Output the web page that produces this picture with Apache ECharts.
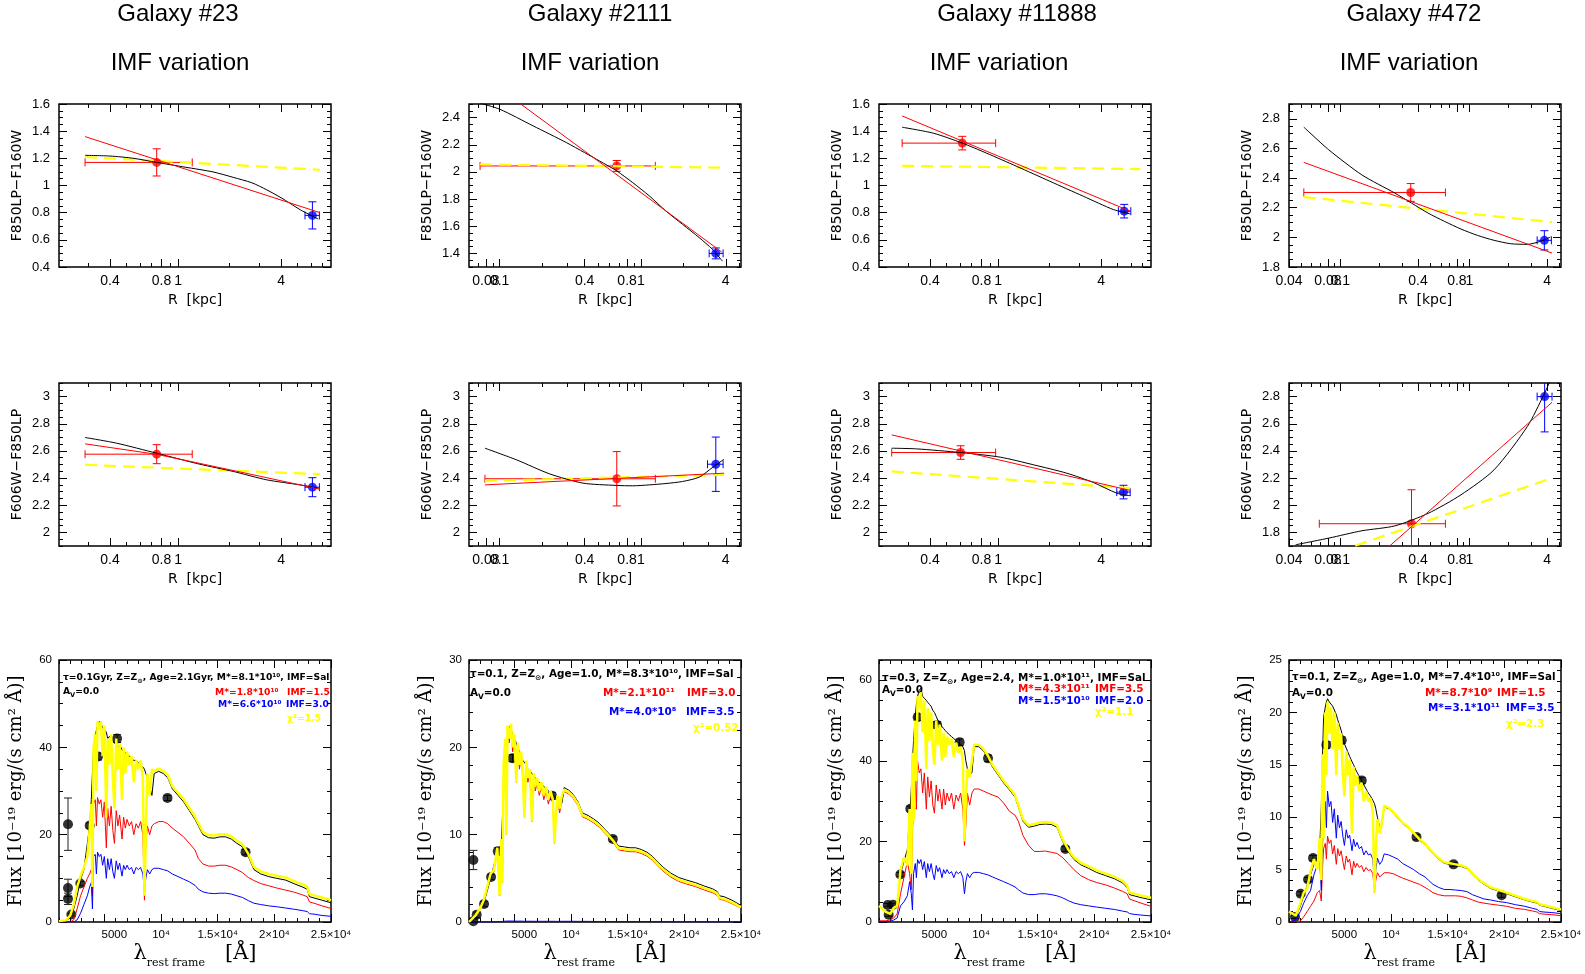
<!DOCTYPE html>
<html>
<head>
<meta charset="utf-8">
<title>IMF variation – colour profiles and SED fits</title>
<script src="https://cdn.jsdelivr.net/npm/echarts@6.0.0/dist/echarts.min.js"></script>
<style>
  html, body { margin: 0; padding: 0; background: #fff; }
  #chart { width: 1585px; height: 974px; }
</style>
</head>
<body>
<div id="chart"></div>
<script>
// ================= Galaxies =================
const galaxyNames = ['Galaxy #23', 'Galaxy #2111', 'Galaxy #11888', 'Galaxy #472'];
const subtitle = 'IMF variation';

// ================= Colour profiles =================
// measured point: [R (kpc), colour (mag), R_min, R_max, colour error]
// model curves: [[R, colour], ...]
// F850LP - F160W
const zh23_in = [0.75, 1.17, 0.286, 1.21, 0.10];
const zh23_out = [6.1, 0.78, 5.52, 6.7, 0.10];
const zh23_red = [[0.286, 1.36], [6.76, 0.80]];
const zh23_black = [[0.286, 1.222], [0.4, 1.217], [0.55, 1.2], [0.75, 1.17], [1.1, 1.135], [1.6, 1.1], [2.1, 1.06], [2.7, 1.02], [3.3, 0.968], [4.0, 0.91], [4.5, 0.87], [5.2, 0.82], [6.6, 0.753]];
const zh23_yel = [[0.286, 1.21], [6.76, 1.116]];

const zh2111_in = [0.676, 2.044, 0.0727, 1.268, 0.04];
const zh2111_out = [3.40, 1.40, 3.05, 3.83, 0.04];
const zh2111_red = [[0.0727, 2.72], [3.75, 1.41]];
const zh2111_black = [[0.0726, 2.506], [0.1005, 2.461], [0.1726, 2.339], [0.297, 2.216], [0.4, 2.142], [0.511, 2.08], [0.676, 2.007], [0.877, 1.921], [1.151, 1.823], [1.507, 1.712], [1.977, 1.614], [2.594, 1.516], [3.22, 1.43], [3.79, 1.343]];
const zh2111_yel = [[0.0727, 2.056], [3.89, 2.031]];

const zh11888_in = [0.618, 1.312, 0.275, 0.968, 0.05];
const zh11888_out = [5.46, 0.811, 5.05, 5.97, 0.05];
const zh11888_red = [[0.275, 1.512], [5.92, 0.811]];
const zh11888_black = [[0.275, 1.429], [0.419, 1.385], [0.618, 1.312], [0.857, 1.238], [1.285, 1.141], [2.01, 1.031], [3.15, 0.921], [4.72, 0.823], [5.92, 0.791]];
const zh11888_yel = [[0.275, 1.145], [6.77, 1.121]];

const zh472_in = [0.351, 2.303, 0.0521, 0.652, 0.06];
const zh472_out = [3.81, 1.98, 3.35, 4.32, 0.065];
const zh472_red = [[0.0521, 2.506], [4.37, 1.894]];
const zh472_black = [[0.0521, 2.744], [0.0813, 2.591], [0.1466, 2.422], [0.264, 2.299], [0.356, 2.231], [0.478, 2.164], [0.641, 2.108], [0.861, 2.056], [1.158, 2.013], [1.554, 1.98], [2.09, 1.957], [2.81, 1.953], [3.55, 1.973], [4.24, 2.002]];
const zh472_yel = [[0.0521, 2.272], [4.37, 2.103]];

// F606W - F850LP
const vz23_in = [0.75, 2.576, 0.286, 1.21, 0.07];
const vz23_out = [6.1, 2.333, 5.52, 6.7, 0.07];
const vz23_red = [[0.286, 2.652], [0.75, 2.575], [1.5, 2.495], [3.0, 2.414], [6.76, 2.318]];
const vz23_black = [[0.286, 2.699], [0.437, 2.657], [0.75, 2.583], [1.34, 2.502], [2.1, 2.449], [3.3, 2.387], [5.17, 2.35], [6.6, 2.326]];
const vz23_yel = [[0.286, 2.498], [6.76, 2.429]];

const vz2111_in = [0.676, 2.395, 0.0787, 1.268, 0.2];
const vz2111_out = [3.40, 2.502, 2.97, 3.83, 0.2];
const vz2111_red = [[0.0787, 2.35], [3.89, 2.436]];
const vz2111_black = [[0.0787, 2.62], [0.132, 2.534], [0.226, 2.431], [0.389, 2.363], [0.67, 2.346], [0.877, 2.343], [1.151, 2.35], [1.507, 2.36], [1.977, 2.375], [2.594, 2.407], [3.22, 2.478], [3.89, 2.539]];
const vz2111_yel = [[0.0787, 2.38], [3.89, 2.424]];

const vz11888_in = [0.604, 2.588, 0.239, 0.968, 0.05];
const vz11888_out = [5.41, 2.297, 4.94, 5.92, 0.05];
const vz11888_red = [[0.239, 2.718], [5.92, 2.309]];
const vz11888_black = [[0.239, 2.62], [0.334, 2.615], [0.604, 2.588], [1.03, 2.554], [1.61, 2.498], [2.52, 2.436], [3.6, 2.368], [4.94, 2.289], [5.92, 2.27]];
const vz11888_yel = [[0.239, 2.449], [5.92, 2.326]];

const vz472_in = [0.356, 1.864, 0.0687, 0.652, 0.25];
const vz472_out = [3.83, 2.80, 3.35, 4.37, 0.26];
const vz472_red = [[0.0687, 1.242], [4.37, 2.758]];
const vz472_black = [[0.045, 1.709], [0.0813, 1.758], [0.1466, 1.812], [0.264, 1.848], [0.478, 1.94], [0.861, 2.077], [1.554, 2.261], [2.81, 2.579], [3.77, 2.812], [4.37, 2.947]];
const vz472_yel = [[0.0687, 1.611], [4.37, 2.2]];

// ================= Spectral energy distributions =================
// rest-frame wavelength grid (Angstrom) shared by all model spectra
const sedWave = [
  1000, 1600, 2000, 2300, 2600, 2900, 3200, 3500, 3700, 3850, 3950, 4050,
  4200, 4300, 4400, 4550, 4700, 4850, 5000, 5175, 5300, 5450, 5600, 5750, 5890, 6050, 6200, 6350, 6560, 6700, 6850, 7000, 7200, 7400, 7600, 7800, 8000, 8200, 8400, 8540, 8660, 8800, 9000, 9200,
  9400, 9800, 10200, 10600, 11000, 11500, 12000, 12500, 13000, 13300, 13700, 14200, 14700, 15200, 15700, 16200, 16700, 17200, 17700, 18200, 18800, 19500, 20200, 21000, 21800, 22500, 22900, 23100, 23500, 24200, 25000
];

// Flux in 1e-19 erg/(s cm2 A): black = best fit, yellow = Salpeter, red / blue = alternative IMFs
const sed23_black = [
  0.2, 0.3, 1.0, 3, 6, 9.7, 12, 18, 22, 28, 34, 39.5,
  42, 44, 45, 46, 45.5, 44.5, 44, 43.5, 42, 42.5, 42, 41.5, 41, 41, 40, 40.5, 39.5, 39, 39, 38.5, 38, 37.5, 37, 37, 36.5, 36, 35.5, 35, 34, 33, 31, 29,
  34, 34.5, 34, 33, 30.5, 29, 27.5, 25.5, 23.5, 22, 20, 19.3, 19.2, 19.5, 19.5, 19, 18, 17.2, 15, 12, 11, 10.4, 10, 9.6, 8.7, 8, 7.5, 5.8, 5.5, 5, 4.4
];
const sed23_yel = [
  0.2, 0.4, 1.5, 4, 8, 10.5, 12.5, 15, 21, 27, 8, 40,
  43, 30, 46, 44, 46, 38, 45, 24, 42, 36, 43, 33, 26, 42, 35, 41, 28, 40, 34, 39, 36, 38, 32, 37, 35, 37, 33, 6, 20, 34, 29, 35,
  34.6, 35.1, 34.6, 33.6, 31.1, 29.6, 28.1, 26.1, 24.1, 22.6, 20.6, 19.9, 19.8, 20.1, 20.1, 19.6, 18.6, 17.8, 15.6, 12.6, 11.6, 11, 10.6, 10.2, 9.3, 8.6, 8.1, 6.4, 6.1, 5.6, 5
];
const sed23_red = [
  0, 0, 0, 0.5, 3, 6, 8, 10, 11, 12, 6, 27,
  28, 22, 28.5, 27, 28, 24, 27.5, 17, 26, 22, 26.5, 21, 18, 25.5, 22, 24.5, 19, 24, 21.5, 23.5, 22, 23, 20, 22.5, 21.5, 23, 20, 5, 18, 22, 20, 22,
  22.5, 23, 23, 22.5, 21.5, 20.5, 19.5, 18, 16.5, 14.5, 13.3, 12.8, 12.8, 13, 13, 12.6, 12, 11.3, 10.2, 9.5, 8.8, 8.3, 7.8, 7.3, 6.8, 6.2, 5.8, 4.6, 4.3, 3.7, 3.1
];
const sed23_blue = [
  0, 0, 0, 0, 0.5, 2, 4, 6, 8, 9, 3, 15,
  15.5, 11, 16, 15, 15.5, 13, 15, 10, 14.5, 12, 14.5, 11.5, 10, 14, 12, 13.5, 10.5, 13, 12, 13, 12, 12.5, 11, 12.5, 12, 12.5, 11, 7, 10, 12, 11, 12,
  12.3, 12.3, 12, 11.7, 11, 10.4, 9.8, 9.2, 8.4, 7.5, 6.9, 6.6, 6.5, 6.6, 6.6, 6.4, 6, 5.6, 4.9, 4.3, 4, 3.7, 3.5, 3.2, 2.9, 2.6, 2.4, 1.9, 1.8, 1.5, 1.3
];
// photometry: [wavelength, flux, error]
const phot23 = [[1795, 22.4, 6.0], [1795, 7.8, 2.0], [1795, 5.3, 1.3], [2090, 1.7, 0.3], [2885, 8.8, 0.5], [3710, 22.1, 0.6], [4445, 37.9, 0.8], [6124, 42.0, 0.9], [10571, 28.4, 0.6], [17460, 16.0, 0.6]];

const sed2111_black = [
  0, 0.7, 1.5, 2.2, 3.5, 5, 6.5, 8, 8.5, 9, 12, 15,
  17, 19.5, 21, 22.4, 22, 21.5, 21, 20.5, 20, 19.5, 19, 18.5, 18.3, 18, 17.5, 17.3, 17, 16.8, 16.5, 16.2, 16, 15.8, 15.5, 15.3, 15, 14.8, 14.6, 14.4, 14.2, 14, 13.8, 13.6,
  15.4, 15.1, 14.6, 13.8, 12.5, 12.2, 11.8, 11.3, 10.6, 10.2, 9.6, 8.7, 8.6, 8.5, 8.5, 8.3, 8, 7.5, 6.8, 6.2, 5.6, 5.1, 4.8, 4.5, 4.1, 3.8, 3.5, 3.0, 2.9, 2.5, 1.9
];
const sed2111_yel = [
  0, 0.8, 1.6, 2.5, 4, 5.5, 6, 8.5, 3, 9.5, 4.5, 18,
  21, 10, 22.5, 21, 22.7, 20, 21.5, 16, 20.5, 18, 19.5, 17, 12, 18.5, 16.5, 17.5, 11.5, 17, 15.5, 16.5, 15, 16, 14.5, 15.5, 14, 15, 14, 9, 12, 14.5, 13, 14.5,
  15.15, 14.85, 14.35, 13.55, 12.25, 11.95, 11.55, 11.05, 10.35, 9.95, 9.35, 8.45, 8.35, 8.25, 8.25, 8.05, 7.75, 7.25, 6.55, 5.95, 5.35, 4.85, 4.55, 4.25, 3.85, 3.55, 3.25, 2.75, 2.65, 2.25, 1.7
];
const sed2111_red = [
  0, 0.7, 1.5, 2.4, 3.8, 5.3, 5.8, 8.2, 3, 9.2, 4.5, 17.5,
  20.5, 10, 22, 20.5, 22.2, 19.5, 21, 16, 20, 17.5, 19, 16.5, 12, 18, 16, 17, 11.5, 16.5, 15, 16, 14.5, 15.5, 14, 15, 13.5, 14.5, 13.5, 9, 12, 14, 12.5, 14,
  14.95, 14.65, 14.15, 13.35, 12.05, 11.75, 11.35, 10.85, 10.15, 9.75, 9.15, 8.25, 8.15, 8.05, 8.05, 7.85, 7.55, 7.05, 6.35, 5.75, 5.15, 4.65, 4.35, 4.05, 3.65, 3.35, 3.05, 2.6, 2.5, 2.1, 1.6
];
const sed2111_blue = [
  0, 0, 0, 0, 0, 0.01, 0.02, 0.03, 0.04, 0.05, 0.05, 0.08,
  0.1, 0.08, 0.11, 0.1, 0.11, 0.1, 0.1, 0.08, 0.1, 0.09, 0.1, 0.09, 0.08, 0.09, 0.09, 0.09, 0.08, 0.09, 0.08, 0.09, 0.08, 0.08, 0.08, 0.08, 0.08, 0.08, 0.08, 0.06, 0.07, 0.08, 0.07, 0.08,
  0.08, 0.08, 0.08, 0.07, 0.07, 0.07, 0.06, 0.06, 0.06, 0.05, 0.05, 0.05, 0.05, 0.05, 0.05, 0.05, 0.05, 0.04, 0.04, 0.04, 0.03, 0.03, 0.03, 0.03, 0.02, 0.02, 0.02, 0.02, 0.02, 0.02, 0.01
];
const phot2111 = [[1384, 7.1, 1.1], [1384, 0.1, 0.3], [1679, 0.84, 0.3], [2328, 2.06, 0.3], [2948, 5.15, 0.3], [3539, 8.1, 0.4], [4838, 18.75, 0.4], [8321, 14.45, 0.4], [13694, 9.5, 0.3]];

const sed11888_black = [
  4, 2.5, 2.2, 3.5, 4.5, 12, 15, 18, 26, 33, 40, 45,
  51, 54, 56, 57.5, 58, 56, 55.5, 55, 54.5, 54, 53.5, 52.5, 52, 51, 50, 49.5, 48.5, 48, 47.5, 47, 46.5, 46, 45.5, 45, 44.5, 44, 43.5, 42.5, 40, 38, 36.5, 37,
  43.5, 43.5, 42.5, 40.8, 38.5, 36.5, 34.5, 32.8, 31, 28.5, 25, 23.5, 23.8, 24.2, 24.3, 24.2, 23.5, 20, 17.5, 15.5, 14.2, 13.3, 12.3, 11.5, 10.7, 9.7, 8.5, 6.8, 6.5, 6, 5.5
];
const sed11888_yel = [
  4, 2.5, 2, 3.5, 4, 13, 16, 14, 28, 12, 42, 25,
  50, 35, 56, 53, 57, 47, 55, 38, 53, 45, 52, 43, 39, 50, 44, 49, 40, 47, 41, 46, 44, 45.5, 41, 44.5, 42, 43.5, 40, 20, 30, 38, 36, 40,
  44, 44, 43, 41.3, 39, 37, 35, 33.3, 31.5, 29, 25.5, 24, 24.3, 24.7, 24.8, 24.7, 24, 20.5, 18, 16, 14.7, 13.8, 12.8, 12, 11.2, 10.2, 9, 7.3, 7, 6.5, 6
];
const sed11888_red = [
  0.3, 0.3, 0.5, 1, 2, 7, 11, 15, 12, 8, 22, 30,
  36, 28, 40, 37, 38, 32, 37, 28, 36, 31, 35, 29, 27, 34, 30, 33, 28, 33, 29, 32, 30, 32, 28, 31.5, 30, 32, 28, 19, 24, 32, 29, 32,
  33, 33, 32.5, 32, 31.5, 31, 29.5, 27.5, 26.5, 25, 21.5, 19, 17.5, 17.5, 17.6, 17.3, 17, 16, 14.5, 13, 11.5, 10.5, 9.8, 9.2, 8.4, 7.6, 7, 5.7, 5.3, 4.6, 3.9
];
const sed11888_blue = [
  0, 0, 0.2, 0.5, 1, 4, 5, 6.5, 10, 7, 3, 12,
  14.5, 11, 15.5, 14.5, 15.5, 13, 15, 11, 14.5, 12.5, 14.5, 12, 10.5, 14, 12.5, 13.5, 11, 13, 12, 13, 12, 12.5, 11, 12.5, 12, 12.5, 11, 7, 10, 12, 11, 12,
  12.3, 12.3, 12, 11.7, 11.2, 10.6, 10, 9.4, 8.7, 8, 7.2, 6.8, 6.8, 7, 7, 6.8, 6.5, 6, 5.3, 4.7, 4.3, 4, 3.7, 3.4, 3.1, 2.7, 2.5, 2.1, 1.9, 1.7, 1.5
];
const phot11888 = [[1765, 4.2, 0.4], [1853, 1.8, 0.4], [2235, 4.3, 0.4], [2882, 11.8, 0.5], [3765, 28.1, 0.6], [4412, 50.8, 0.8], [6118, 48.9, 0.8], [8118, 44.6, 0.8], [10618, 40.6, 0.8], [17441, 18.1, 0.6]];

const sed472_black = [
  1, 0.5, 1.5, 2.5, 3.5, 4.5, 5.5, 6.2, 6.8, 11, 15.5, 19.5,
  20.5, 21, 21.3, 21, 20.8, 20.6, 20.5, 19.8, 19.3, 18.8, 18.3, 17.6, 17, 16.6, 16.2, 15.8, 15.3, 15, 14.6, 14.3, 13.9, 13.5, 13.1, 12.7, 12.3, 12, 11.6, 11.3, 10.8, 10, 9, 9.3,
  11, 10.8, 10.4, 9.9, 9.4, 9, 8.4, 7.8, 7.4, 7, 6.5, 6, 5.6, 5.5, 5.4, 5.3, 5.1, 4.5, 4, 3.6, 3.2, 2.95, 2.7, 2.4, 2.1, 1.9, 1.8, 1.6, 1.5, 1.3, 1.1
];
const sed472_yel = [
  1, 0.6, 1.8, 2.8, 3.2, 4.8, 6, 5, 8, 4, 16, 8,
  20, 14, 21, 18, 20.5, 16.5, 20, 14, 19, 16.5, 18, 14, 12, 16.3, 14, 15.5, 8.5, 14.8, 13, 14, 12.5, 13.3, 11.5, 12.5, 11.5, 11.8, 10.5, 2.8, 7, 9.8, 8.5, 9.5,
  11.1, 10.9, 10.5, 10, 9.5, 9.1, 8.5, 7.9, 7.5, 7.1, 6.6, 6.1, 5.7, 5.6, 5.5, 5.4, 5.2, 4.6, 4.1, 3.7, 3.3, 3.05, 2.8, 2.5, 2.2, 2, 1.9, 1.7, 1.6, 1.4, 1.2
];
const sed472_red = [
  0, 0, 0.1, 0.5, 1, 1.5, 2, 2.8, 3, 2, 5, 7,
  7.5, 6, 8.2, 7.5, 7.8, 6.5, 7.3, 5.5, 7, 6.3, 6.8, 5.8, 5, 6.3, 5.7, 6, 4.5, 5.8, 5.2, 5.6, 5.2, 5.4, 4.8, 5.2, 4.9, 5, 4.6, 2.8, 4, 4.7, 4.3, 4.5,
  4.7, 4.7, 4.6, 4.4, 4.2, 4, 3.8, 3.6, 3.3, 3.1, 2.8, 2.6, 2.5, 2.5, 2.5, 2.45, 2.3, 2.1, 1.9, 1.8, 1.7, 1.6, 1.5, 1.3, 1.2, 1.05, 0.95, 0.8, 0.75, 0.7, 0.6
];
const sed472_blue = [
  0, 0.2, 1, 1.8, 2.5, 3, 4.5, 5.5, 6, 3, 7, 10,
  11.5, 9, 12.5, 11, 11.5, 9.5, 10.8, 8, 10.2, 9, 9.6, 8.2, 7.3, 8.8, 8, 8.3, 6.8, 7.9, 7.2, 7.6, 7, 7.2, 6.4, 6.8, 6.4, 6.5, 6, 3.5, 5, 6.1, 5.5, 5.8,
  6.5, 6.4, 6.2, 6, 5.6, 5.3, 5, 4.6, 4.3, 4, 3.6, 3.3, 3.1, 3.1, 3.05, 3, 2.9, 2.6, 2.4, 2.2, 2.1, 1.95, 1.85, 1.65, 1.5, 1.3, 1.2, 1, 0.95, 0.9, 0.8
];
const phot472 = [[1530, 0.48, 0.15], [2031, 2.7, 0.2], [2679, 4.05, 0.2], [3120, 6.1, 0.25], [4298, 16.9, 0.3], [5653, 17.35, 0.3], [7420, 13.5, 0.3], [12249, 8.1, 0.25], [15518, 5.5, 0.2], [19758, 2.55, 0.2]];

// fit parameters printed in each SED panel
const fitTau = ['0.1Gyr', '0.1', '0.3', '0.1'];
const fitAge = ['2.1Gyr', '1.0', '2.4', '1.0'];
const fitMass = ['8.1*10¹⁰', '8.3*10¹⁰', '1.0*10¹¹', '7.4*10¹⁰'];
const redMass = ['1.8*10¹⁰', '2.1*10¹¹', '4.3*10¹¹', '8.7*10⁹'];
const redImf = ['1.5', '3.0', '3.5', '1.5'];
const blueMass = ['6.6*10¹⁰', '4.0*10⁸', '1.5*10¹⁰', '3.1*10¹¹'];
const blueImf = ['3.0', '3.5', '2.0', '3.5'];
const chi2 = ['1.5', '0.52', '1.1', '2.3'];

// ================= Tick labels =================
const rTickLabels = [0.04, 0.08, 0.1, 0.4, 0.8, 1, 4];
const rMinorTicks = [0.05, 0.06, 0.07, 0.09, 0.2, 0.3, 0.5, 0.6, 0.7, 0.9, 2, 3, 5, 6, 7, 8, 9];
const zhTicks = [[0.4, 0.6, 0.8, 1, 1.2, 1.4, 1.6], [1.4, 1.6, 1.8, 2, 2.2, 2.4], [0.4, 0.6, 0.8, 1, 1.2, 1.4, 1.6], [1.8, 2, 2.2, 2.4, 2.6, 2.8]];
const vzTicks = [[2, 2.2, 2.4, 2.6, 2.8, 3], [2, 2.2, 2.4, 2.6, 2.8, 3], [2, 2.2, 2.4, 2.6, 2.8, 3], [1.8, 2, 2.2, 2.4, 2.6, 2.8]];
const sedXTicks = [5000, 10000, 15000, 20000, 25000];
const sedXTickText = ['5000', '10⁴', '1.5×10⁴', '2×10⁴', '2.5×10⁴'];
const sedYTicks = [[0, 20, 40, 60], [0, 10, 20, 30], [0, 20, 40, 60], [0, 5, 10, 15, 20, 25]];

// ================= Layout =================
const COL_LEFT = [59, 469, 879, 1289];
const PANEL_W = 272;
const ROW_TOP = [104, 383, 660];
const ROW_H = [163, 163, 262];
const logRange = [[-0.696, 0.894], [-1.217, 0.710], [-0.696, 0.894], [-1.398, 0.710]];
const zhRange = [[0.4, 1.6], [1.3, 2.5], [0.4, 1.6], [1.8, 2.9]];
const vzRange = [[1.9, 3.1], [1.9, 3.1], [1.9, 3.1], [1.7, 2.9]];
const sedYRange = [[0, 60], [0, 30], [0, 65], [0, 25]];
const sedYMinorStep = [5, 2, 5, 1];

const RED = '#ff0000', BLUE = '#0000ff', YEL = '#ffff00', BLK = '#000000';
const TICK_FONT = 'Liberation Sans';
const L10 = Math.log10;

function steps(min, max, step) {
  const out = [];
  const k0 = Math.ceil(min / step - 1e-9), k1 = Math.floor(max / step + 1e-9);
  for (let k = k0; k <= k1; k++) out.push(+(k * step).toFixed(6));
  return out;
}

const grids = [], xAxes = [], yAxes = [], series = [], graphics = [];

// four axes per side pair: labelled major ticks, minor ticks (optionally with a second
// label set, so neighbouring labels are not thinned out), mirrored major, mirrored minor
function pushAxes(list, gi, pos, opp, c) {
  const base = () => ({
    type: 'value', gridIndex: gi, min: c.min, max: c.max, silent: true,
    axisLine: { show: false, onZero: false }, splitLine: { show: false }, axisPointer: { show: false }
  });
  const ticks = (vals, len) => ({ show: true, inside: true, length: len, customValues: vals, lineStyle: { color: BLK, width: 1 } });
  const lbl = l => l ? Object.assign({ showMinLabel: true, showMaxLabel: true, hideOverlap: false }, l) : { show: false };
  list.push(Object.assign(base(), {
    position: pos, axisTick: ticks(c.major, c.majorLen), axisLabel: lbl(c.label),
    name: c.name || '', nameLocation: 'middle', nameGap: c.nameGap || 0,
    nameRotate: c.nameRotate || 0, nameTextStyle: c.nameTextStyle || {}, nameMoveOverlap: false
  }));
  list.push(Object.assign(base(), { position: pos, axisTick: ticks(c.minor, c.minorLen), axisLabel: lbl(c.label2) }));
  list.push(Object.assign(base(), { position: opp, axisTick: ticks(c.major, c.majorLen), axisLabel: { show: false } }));
  list.push(Object.assign(base(), { position: opp, axisTick: ticks(c.minor, c.minorLen), axisLabel: { show: false } }));
}

function addGrid(row, col) {
  grids.push({
    left: COL_LEFT[col], top: ROW_TOP[row], width: PANEL_W, height: ROW_H[row],
    show: true, borderColor: BLK, borderWidth: 1.5, backgroundColor: 'rgba(0,0,0,0)',
    containLabel: false, outerBoundsMode: 'none'
  });
  return grids.length - 1;
}

function renderErr(params, api) {
  const x = api.value(0), y = api.value(1);
  const c = api.coord([x, y]);
  const xl = api.coord([api.value(2), y])[0], xh = api.coord([api.value(3), y])[0];
  const yl = api.coord([x, api.value(4)])[1], yh = api.coord([x, api.value(5)])[1];
  const col = api.visual('color');
  const cap = 4, kids = [];
  const seg = (x1, y1, x2, y2) => kids.push({ type: 'line', shape: { x1, y1, x2, y2 }, style: { stroke: col, lineWidth: 1 } });
  if (Math.abs(xh - xl) > 0.5) {
    seg(xl, c[1], xh, c[1]);
    seg(xl, c[1] - cap, xl, c[1] + cap);
    seg(xh, c[1] - cap, xh, c[1] + cap);
  }
  seg(c[0], yl, c[0], yh);
  seg(c[0] - cap, yl, c[0] + cap, yl);
  seg(c[0] - cap, yh, c[0] + cap, yh);
  return { type: 'group', children: kids };
}

function lineSeries(ai, data, color, width, dash, smooth) {
  return {
    type: 'line', xAxisIndex: ai, yAxisIndex: ai, data, symbol: 'none', silent: true,
    smooth: smooth || false, clip: true,
    lineStyle: { color, width, type: dash || 'solid' }, itemStyle: { color }
  };
}

function errSeries(ai, data, color) {
  return { type: 'custom', xAxisIndex: ai, yAxisIndex: ai, data, renderItem: renderErr, clip: true, silent: true, itemStyle: { color } };
}

function dotSeries(ai, data, color, size) {
  return { type: 'scatter', xAxisIndex: ai, yAxisIndex: ai, data, symbol: 'circle', symbolSize: size, silent: true, clip: true, itemStyle: { color } };
}

// radius labels alternate between two axes so that close pairs (0.08/0.1, 0.8/1) both stay visible
const rLabelsA = rTickLabels.filter((v, i) => i % 2 === 0);
const rLabelsB = rTickLabels.filter((v, i) => i % 2 === 1);
function rLabel(vals) {
  return {
    show: true, customValues: vals.map(L10), margin: 7, color: BLK,
    fontFamily: TICK_FONT, fontSize: 14,
    formatter: v => String(+Math.pow(10, v).toPrecision(2))
  };
}

// ---------- colour-profile panel ----------
function colourPanel(row, col, yRange, yTicks, yName, d) {
  const gi = addGrid(row, col);
  const ai = gi * 4;
  pushAxes(xAxes, gi, 'bottom', 'top', {
    min: logRange[col][0], max: logRange[col][1],
    major: rTickLabels.map(L10), minor: rMinorTicks.map(L10), majorLen: 8, minorLen: 4,
    label: rLabel(rLabelsA), label2: rLabel(rLabelsB),
    name: 'R  [kpc]', nameGap: 26,
    nameTextStyle: { fontFamily: 'DejaVu Sans', fontSize: 14, color: BLK }
  });
  pushAxes(yAxes, gi, 'left', 'right', {
    min: yRange[0], max: yRange[1],
    major: yTicks, minor: steps(yRange[0], yRange[1], 0.05), majorLen: 8, minorLen: 4,
    label: {
      show: true, customValues: yTicks, margin: 9, color: BLK,
      fontFamily: TICK_FONT, fontSize: 13, formatter: v => String(+v.toFixed(2))
    },
    name: yName, nameGap: 35, nameRotate: 90,
    nameTextStyle: { fontFamily: 'DejaVu Sans', fontSize: 14, color: BLK }
  });
  const xy = p => [L10(p[0]), p[1]];
  const eb = p => [L10(p[0]), p[1], L10(p[2]), L10(p[3]), p[1] - p[4], p[1] + p[4]];
  series.push(lineSeries(ai, d.yel.map(xy), YEL, 2.2, [12, 7]));
  series.push(lineSeries(ai, d.black.map(xy), BLK, 1, null, 0.25));
  series.push(lineSeries(ai, d.red.map(xy), RED, 1));
  series.push(errSeries(ai, [eb(d.inner)], RED));
  series.push(errSeries(ai, [eb(d.outer)], BLUE));
  series.push(dotSeries(ai, [xy(d.inner)], RED, 9));
  series.push(dotSeries(ai, [xy(d.outer)], BLUE, 9));
}

// ---------- SED panel ----------
function sedPanel(col, s) {
  const gi = addGrid(2, col);
  const ai = gi * 4;
  const yr = sedYRange[col];
  pushAxes(xAxes, gi, 'bottom', 'top', {
    min: 1000, max: 25000, major: sedXTicks, minor: steps(1000, 25000, 1000), majorLen: 8, minorLen: 4,
    label: {
      show: true, customValues: sedXTicks, margin: 7, color: BLK, fontFamily: TICK_FONT, fontSize: 11.5,
      formatter: v => {
        const i = sedXTicks.indexOf(v);
        if (i < 0) return '';
        return i === 0 ? '{p|' + sedXTickText[i] + '}' : sedXTickText[i];
      },
      rich: { p: { padding: [0, 0, 0, 20], fontFamily: TICK_FONT, fontSize: 11.5, color: BLK } }
    },
    name: '{l|λ}{s|rest frame}{l|   [Å]}', nameGap: 17,
    nameTextStyle: {
      color: BLK,
      rich: {
        l: { fontFamily: 'DejaVu Serif', fontSize: 21, color: BLK },
        s: { fontFamily: 'DejaVu Serif', fontSize: 11, color: BLK, lineHeight: 30, verticalAlign: 'bottom' }
      }
    }
  });
  pushAxes(yAxes, gi, 'left', 'right', {
    min: yr[0], max: yr[1], major: sedYTicks[col], minor: steps(yr[0], yr[1], sedYMinorStep[col]), majorLen: 8, minorLen: 4,
    label: { show: true, customValues: sedYTicks[col], margin: 7, color: BLK, fontFamily: TICK_FONT, fontSize: 11.5 },
    name: 'Flux [10⁻¹⁹ erg/(s cm² Å)]', nameGap: 34, nameRotate: 90,
    nameTextStyle: { fontFamily: 'DejaVu Serif', fontSize: 18, color: BLK }
  });
  const pts = arr => sedWave.map((w, i) => [w, arr[i]]);
  series.push(lineSeries(ai, pts(s.red), RED, 1));
  series.push(lineSeries(ai, pts(s.blue), BLUE, 1));
  series.push(lineSeries(ai, pts(s.black), BLK, 1));
  series.push(lineSeries(ai, pts(s.yel), YEL, 2.5));
  series.push(errSeries(ai, s.phot.map(p => [p[0], p[1], p[0], p[0], p[1] - p[2], p[1] + p[2]]), '#222'));
  series.push(dotSeries(ai, s.phot.map(p => [p[0], p[1]]), BLK, 10));
}

// ---------- build all panels ----------
const zhSets = [
  { inner: zh23_in, outer: zh23_out, red: zh23_red, black: zh23_black, yel: zh23_yel },
  { inner: zh2111_in, outer: zh2111_out, red: zh2111_red, black: zh2111_black, yel: zh2111_yel },
  { inner: zh11888_in, outer: zh11888_out, red: zh11888_red, black: zh11888_black, yel: zh11888_yel },
  { inner: zh472_in, outer: zh472_out, red: zh472_red, black: zh472_black, yel: zh472_yel }
];
const vzSets = [
  { inner: vz23_in, outer: vz23_out, red: vz23_red, black: vz23_black, yel: vz23_yel },
  { inner: vz2111_in, outer: vz2111_out, red: vz2111_red, black: vz2111_black, yel: vz2111_yel },
  { inner: vz11888_in, outer: vz11888_out, red: vz11888_red, black: vz11888_black, yel: vz11888_yel },
  { inner: vz472_in, outer: vz472_out, red: vz472_red, black: vz472_black, yel: vz472_yel }
];
const sedSets = [
  { black: sed23_black, yel: sed23_yel, red: sed23_red, blue: sed23_blue, phot: phot23 },
  { black: sed2111_black, yel: sed2111_yel, red: sed2111_red, blue: sed2111_blue, phot: phot2111 },
  { black: sed11888_black, yel: sed11888_yel, red: sed11888_red, blue: sed11888_blue, phot: phot11888 },
  { black: sed472_black, yel: sed472_yel, red: sed472_red, blue: sed472_blue, phot: phot472 }
];

for (let c = 0; c < 4; c++) colourPanel(0, c, zhRange[c], zhTicks[c], 'F850LP−F160W', zhSets[c]);
for (let c = 0; c < 4; c++) colourPanel(1, c, vzRange[c], vzTicks[c], 'F606W−F850LP', vzSets[c]);
for (let c = 0; c < 4; c++) sedPanel(c, sedSets[c]);

// ---------- titles ----------
const titleX = [178, 600, 1017, 1414];
const subX = [180, 590, 999, 1409];
function centred(x, y, text) {
  graphics.push({
    type: 'text', x, y, silent: true,
    style: {
      text, fill: BLK, fontFamily: 'Liberation Sans', fontSize: 24,
      align: 'center', verticalAlign: 'middle', textAlign: 'center', textVerticalAlign: 'middle'
    }
  });
}
for (let c = 0; c < 4; c++) {
  centred(titleX[c], 14, galaxyNames[c]);
  centred(subX[c], 63, subtitle);
}

// ---------- SED annotations ----------
const annot = [
  { x0: 63, y1: 678, yAv: 692, yRed: 693, yBlue: 705, yChi: 719, mx: 215, bmx: 218, ix: 287, bix: 286, cx: 287, fs: 9.2 },
  { x0: 470, y1: 674, yAv: 693, yRed: 693, yBlue: 712, yChi: 728, mx: 603, bmx: 609, ix: 687, bix: 686, cx: 693, fs: 10.4 },
  { x0: 882, y1: 678, yAv: 690, yRed: 689, yBlue: 701, yChi: 712, mx: 1018, bmx: 1018, ix: 1095, bix: 1095, cx: 1095, fs: 10.4 },
  { x0: 1292, y1: 677, yAv: 693, yRed: 693, yBlue: 708, yChi: 724, mx: 1425, bmx: 1428, ix: 1497, bix: 1506, cx: 1506, fs: 10.4 }
];
function note(x, y, text, color, fs) {
  graphics.push({
    type: 'text', x, y, silent: true,
    style: {
      text, fill: color, fontFamily: 'DejaVu Sans', fontWeight: 'bold', fontSize: fs,
      align: 'left', verticalAlign: 'middle', textAlign: 'left', textVerticalAlign: 'middle',
      rich: {
        s: { fontFamily: 'DejaVu Sans', fontWeight: 'bold', fontSize: fs * 0.72, fill: color, lineHeight: fs * 1.4, verticalAlign: 'bottom' }
      }
    }
  });
}
for (let c = 0; c < 4; c++) {
  const a = annot[c];
  note(a.x0, a.y1, 'τ=' + fitTau[c] + ', Z=Z{s|⊙}, Age=' + fitAge[c] + ', M*=' + fitMass[c] + ', IMF=Sal', BLK, a.fs);
  note(a.x0, a.yAv, 'A{s|V}=0.0', BLK, a.fs);
  note(a.mx, a.yRed, 'M*=' + redMass[c], RED, a.fs);
  note(a.ix, a.yRed, 'IMF=' + redImf[c], RED, a.fs);
  note(a.bmx, a.yBlue, 'M*=' + blueMass[c], BLUE, a.fs);
  note(a.bix, a.yBlue, 'IMF=' + blueImf[c], BLUE, a.fs);
  note(a.cx, a.yChi, 'χ²=' + chi2[c], YEL, a.fs);
}

const chart = echarts.init(document.getElementById('chart'), null, { renderer: 'canvas' });
chart.setOption({
  animation: false,
  backgroundColor: '#ffffff',
  grid: grids,
  xAxis: xAxes,
  yAxis: yAxes,
  series: series,
  graphic: { elements: graphics }
});
</script>
</body>
</html>
